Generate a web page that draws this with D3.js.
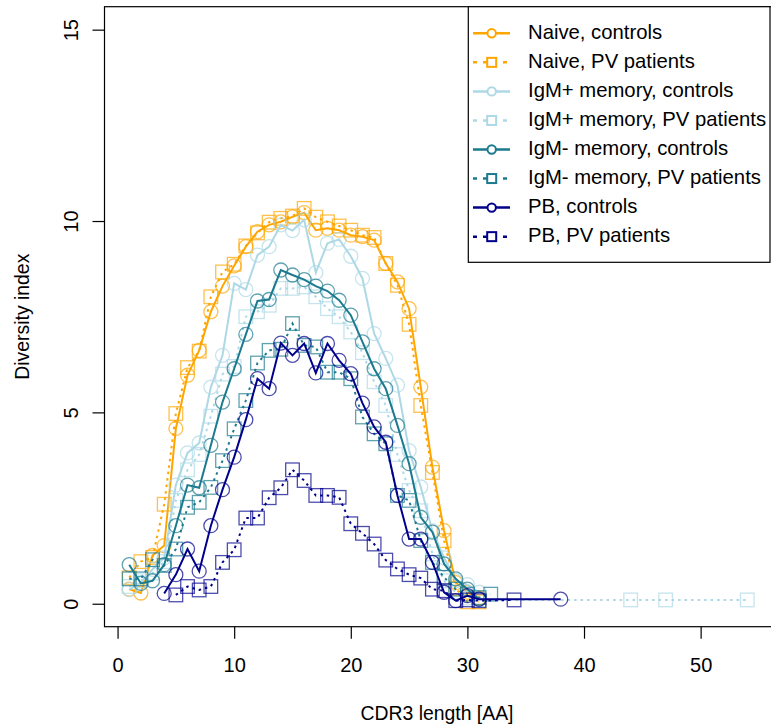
<html>
<head>
<meta charset="utf-8">
<title>CDR3 length diversity</title>
<script src="https://d3js.org/d3.v7.min.js"></script>
<style>
  body { margin: 0; background: #fff; }
  text { font-family: "Liberation Sans", Arial, sans-serif; fill: #000; }
</style>
</head>
<body>
<svg width="771" height="727"></svg>
<script>
// CDR3 lengths for each series
var len1to31 = [1,2,3,4,5,6,7,8,9,10,11,12,13,14,15,16,17,18,19,20,21,22,23,24,25,26,27,28,29,30,31];
var lenIgmPlusPV = [1,2,3,4,5,6,7,8,9,10,11,12,13,14,15,16,17,18,19,20,21,22,23,24,25,26,27,28,29,30,31,44,47,54];
var lenIgmMinusPV = [1,2,3,4,5,6,7,8,9,10,11,12,13,14,15,16,17,18,19,20,21,22,23,24,25,26,27,28,29,30,31,32];
var lenPbCtrl = [4,5,6,7,8,9,10,11,12,13,14,15,16,17,18,19,20,21,22,23,24,25,26,27,28,29,30,31,38];
var lenPbPV = [5,6,7,8,9,10,11,12,13,14,15,16,17,18,19,20,21,22,23,24,25,26,27,28,29,30,31,34];

// diversity index values
var naiveCtrl = [0.38,0.28,1.26,1.52,4.58,5.97,6.62,7.63,8.3,8.83,9.33,9.72,9.9,9.98,10.11,10.22,9.76,9.81,9.76,9.63,9.59,9.5,8.89,8.41,7.71,5.66,3.57,1.91,0.55,0.3,0.15];
var naivePV = [0.68,1.1,1.21,2.6,4.97,6.17,6.6,8.02,8.67,8.87,9.35,9.69,9.97,10.07,10.13,10.33,10.1,9.98,9.87,9.76,9.63,9.57,8.89,8.32,7.3,5.18,3.43,1.65,0.4,0.05,0.05];
var igmPlusCtrl = [0.37,0.55,0.9,1.2,3.1,3.94,4.2,5.66,6.49,8.37,8.21,9.11,9.33,9.9,9.75,10.03,8.65,9.42,9.52,9.08,8.5,7.06,6.41,5.71,4.0,3.05,1.9,1.2,0.6,0.5,0.3];
var igmPlusPV = [0.45,0.6,0.8,1.1,2.7,3.5,3.9,4.9,6.0,6.2,7.5,7.63,7.8,8.24,8.24,8.28,8.02,7.71,7.5,7.1,6.56,5.8,5.18,3.9,2.96,2.43,1.3,0.6,0.3,0.15,0.1,0.1,0.1,0.1];
var igmMinusCtrl = [1.02,0.53,0.6,1.02,2.04,3.1,3.03,4.14,5.27,6.14,7.04,7.91,7.95,8.72,8.59,8.47,8.3,8.17,7.93,7.54,6.84,6.14,5.62,4.66,3.66,2.26,1.87,1.04,0.65,0.38,0.12];
var igmMinusPV = [0.65,0.65,1.15,1.0,1.43,2.52,2.65,3.04,3.74,4.57,5.31,6.29,6.62,6.65,7.32,6.75,6.71,6.05,6.05,5.88,4.88,4.44,4.18,2.83,2.7,1.65,1.08,0.69,0.38,0.25,0.16,0.25];
var pbCtrl = [0.27,0.76,1.43,0.85,2.04,2.98,3.83,4.81,5.88,5.62,6.81,6.49,6.8,6.03,6.8,6.36,6.01,5.24,4.62,4.22,2.83,1.69,1.69,1.08,0.3,0.08,0.21,0.12,0.12];
var pbPV = [0.23,0.45,0.36,0.45,1.08,1.41,2.24,2.24,2.77,3.03,3.5,3.22,2.83,2.83,2.78,2.09,1.84,1.56,1.14,0.91,0.76,0.67,0.38,0.34,0.08,0.1,0.08,0.1];

var seriesNames = ["Naive, controls","Naive, PV patients","IgM+ memory, controls","IgM+ memory, PV patients",
                   "IgM- memory, controls","IgM- memory, PV patients","PB, controls","PB, PV patients"];
var xTicks = [0,10,20,30,40,50];
var yTicks = [0,5,10,15];

var colors = ["orange","orange","#add8e6","#add8e6","#1b7a8e","#1b7a8e","#00008b","#00008b"];
var series = [
  {len: len1to31, val: naiveCtrl},
  {len: len1to31, val: naivePV},
  {len: len1to31, val: igmPlusCtrl},
  {len: lenIgmPlusPV, val: igmPlusPV},
  {len: len1to31, val: igmMinusCtrl},
  {len: lenIgmMinusPV, val: igmMinusPV},
  {len: lenPbCtrl, val: pbCtrl},
  {len: lenPbPV, val: pbPV}
].map(function(s, i){
  return {name: seriesNames[i], color: colors[i], pv: i % 2 == 1,
          pts: s.len.map(function(l, j){ return {x: l, y: s.val[j]}; })};
});

var svg = d3.select("svg");
var m = {left: 104.5, right: 772, top: 6.7, bottom: 626.7};

var x = d3.scaleLinear().domain([-1.12, 56.12]).range([m.left, m.right]);
var y = d3.scaleLinear().domain([-0.6, 15.6]).range([m.bottom, m.top]);

svg.append("clipPath").attr("id","clip")
  .append("rect").attr("x",m.left).attr("y",m.top).attr("width",m.right-m.left).attr("height",m.bottom-m.top);

var plot = svg.append("g").attr("clip-path","url(#clip)");
var line = d3.line().x(d=>x(d.x)).y(d=>y(d.y));
var dash = "2.5,4";

series.forEach(function(s){
  var g = plot.append("g");
  g.append("path")
    .attr("d", line(s.pts))
    .attr("fill","none")
    .attr("stroke", s.color)
    .attr("stroke-width", 2)
    .attr("stroke-dasharray", s.pv ? dash : null);
  if (s.pv) {
    g.selectAll("rect").data(s.pts).enter().append("rect")
      .attr("x", d=>x(d.x)-6.8).attr("y", d=>y(d.y)-6.8)
      .attr("width", 13.6).attr("height", 13.6)
      .attr("fill","none").attr("stroke", s.color)
      .attr("stroke-width", 1.3).attr("stroke-opacity", 0.7);
  } else {
    g.selectAll("circle").data(s.pts).enter().append("circle")
      .attr("cx", d=>x(d.x)).attr("cy", d=>y(d.y)).attr("r", 7)
      .attr("fill","none").attr("stroke", s.color)
      .attr("stroke-width", 1.3).attr("stroke-opacity", 0.7);
  }
});

// box
svg.append("rect").attr("x",m.left).attr("y",m.top).attr("width",m.right-m.left).attr("height",m.bottom-m.top)
  .attr("fill","none").attr("stroke","#000").attr("stroke-width",1.2);

// x axis
var xa = svg.append("g").attr("transform",`translate(0,${m.bottom})`)
  .call(d3.axisBottom(x).tickValues(xTicks).tickSize(12).tickPadding(19).tickSizeOuter(0));
xa.select(".domain").remove();
xa.selectAll("line").attr("stroke","#000").attr("stroke-width",1.2);
xa.selectAll("text").style("font-size","20px").attr("fill","#000");

// y axis
var ya = svg.append("g").attr("transform",`translate(${m.left},0)`)
  .call(d3.axisLeft(y).tickValues(yTicks).tickSize(12).tickSizeOuter(0).tickFormat(d3.format("d")));
ya.select(".domain").remove();
ya.selectAll("line").attr("stroke","#000").attr("stroke-width",1.2);
ya.selectAll("text")
  .attr("x", null).attr("dy", null)
  .attr("transform", "translate(-32,0) rotate(-90)")
  .attr("text-anchor","middle").attr("dominant-baseline","middle")
  .style("font-size","20px").attr("fill","#000");

svg.append("text").attr("x", 437).attr("y", 720)
  .attr("text-anchor","middle").style("font-size","19.4px").text("CDR3 length [AA]");
svg.append("text").attr("transform",`translate(24,${(m.top+m.bottom)/2}) rotate(-90)`)
  .attr("text-anchor","middle").attr("dominant-baseline","middle")
  .style("font-size","19.4px").text("Diversity index");

// legend
var lg = svg.append("g");
lg.append("rect").attr("x",468.3).attr("y",m.top).attr("width",770-468.3).attr("height",262.3-m.top)
  .attr("fill","#fff").attr("stroke","#000").attr("stroke-width",1.2);
series.forEach(function(s, i){
  var cy = 33.3 + i*29.05;
  lg.append("line").attr("x1",473).attr("x2",510).attr("y1",cy).attr("y2",cy)
    .attr("stroke",s.color).attr("stroke-width",2.5)
    .attr("stroke-dasharray", s.pv ? "4,6" : null);
  if (s.pv) {
    lg.append("rect").attr("x",491.7-4.5).attr("y",cy-4.5).attr("width",9).attr("height",9)
      .attr("fill","#fff").attr("stroke",s.color).attr("stroke-width",2);
  } else {
    lg.append("circle").attr("cx",491.7).attr("cy",cy).attr("r",4.2)
      .attr("fill","#fff").attr("stroke",s.color).attr("stroke-width",2);
  }
  lg.append("text").attr("x",528).attr("y",cy).attr("dominant-baseline","middle")
    .style("font-size","20.3px").text(s.name);
});
</script>
</body>
</html>
